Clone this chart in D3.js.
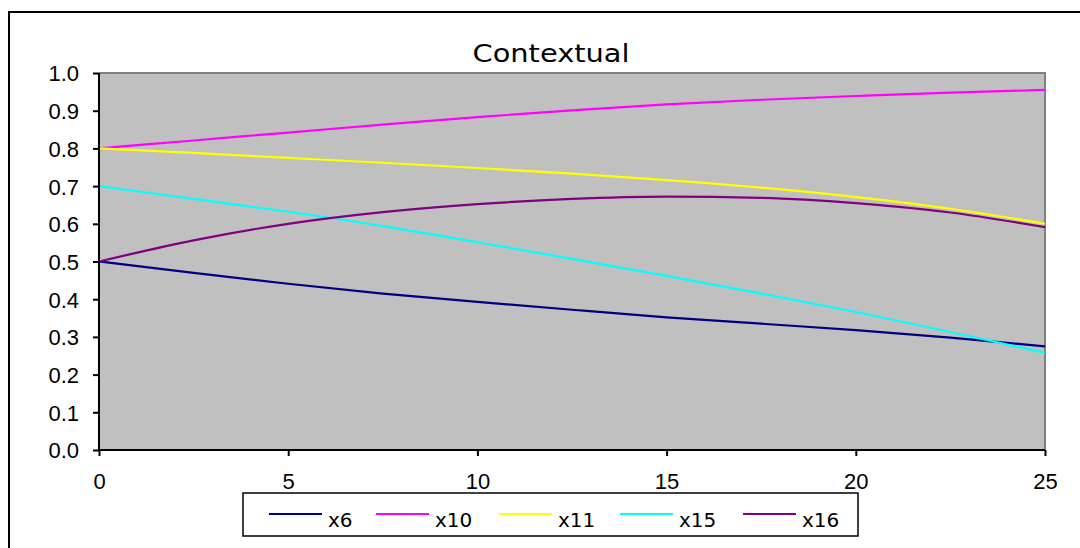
<!DOCTYPE html>
<html>
<head>
<meta charset="utf-8">
<script src="https://cdn.jsdelivr.net/npm/d3@7"></script>
<style>
  html, body { margin: 0; padding: 0; background: #ffffff; }
  svg { display: block; }
</style>
</head>
<body>
<svg id="chart" width="1080" height="548"></svg>
<script>
// Horizon values (x) shared by every series
const xs = [0, 2.5, 5, 7.5, 10, 12.5, 15, 17.5, 20, 22.5, 25];

// Series values
const x6  = [0.500, 0.470, 0.441, 0.415, 0.393, 0.372, 0.352, 0.335, 0.318, 0.298, 0.275];
const x10 = [0.800, 0.821, 0.842, 0.863, 0.883, 0.901, 0.917, 0.929, 0.939, 0.948, 0.955];
const x11 = [0.800, 0.788, 0.775, 0.762, 0.748, 0.733, 0.716, 0.696, 0.671, 0.640, 0.600];
const x15 = [0.700, 0.666, 0.632, 0.594, 0.551, 0.507, 0.462, 0.415, 0.366, 0.313, 0.258];
const x16 = [0.500, 0.556, 0.600, 0.631, 0.652, 0.666, 0.672, 0.669, 0.655, 0.630, 0.591];

const seriesNames  = ["x6", "x10", "x11", "x15", "x16"];
const seriesValues = [x6, x10, x11, x15, x16];
const seriesColors = ["#000080", "#FF00FF", "#FFFF00", "#00FFFF", "#800080"];

// Tick labels
const xTicks = [0, 5, 10, 15, 20, 25];
const yTicks = [0, 0.1, 0.2, 0.3, 0.4, 0.5, 0.6, 0.7, 0.8, 0.9, 1.0];

const title = "Contextual";

const svg = d3.select("#chart");
const plot = { left: 99, top: 73, right: 1045, bottom: 450 };

const x = d3.scaleLinear().domain([0, 25]).range([plot.left, plot.right]);
const y = d3.scaleLinear().domain([0, 1]).range([plot.bottom, plot.top]);

// Outer chart frame (runs off the right and bottom edges)
svg.append("rect")
  .attr("x", 9).attr("y", 12)
  .attr("width", 1100).attr("height", 600)
  .attr("fill", "#ffffff")
  .attr("stroke", "#000000").attr("stroke-width", 2);

// Plot area background
svg.append("rect")
  .attr("x", plot.left).attr("y", plot.top)
  .attr("width", plot.right - plot.left).attr("height", plot.bottom - plot.top)
  .attr("fill", "#C0C0C0");

// Gray frame on the top and right sides of the plot area
svg.append("path")
  .attr("d", `M${plot.left},${plot.top}H${plot.right}V${plot.bottom}`)
  .attr("fill", "none")
  .attr("stroke", "#808080").attr("stroke-width", 2);

// Title
svg.append("text")
  .attr("x", 551).attr("y", 62)
  .attr("text-anchor", "middle")
  .attr("font-family", "'DejaVu Sans', sans-serif")
  .attr("font-size", 24)
  .attr("textLength", 157)
  .attr("lengthAdjust", "spacingAndGlyphs")
  .attr("fill", "#000")
  .text(title);

// Series lines
const line = d3.line()
  .x((d, i) => x(xs[i]))
  .y(d => y(d))
  .curve(d3.curveMonotoneX);

svg.append("g")
  .selectAll("path")
  .data(seriesValues)
  .join("path")
  .attr("d", d => line(d))
  .attr("fill", "none")
  .attr("stroke", (d, i) => seriesColors[i])
  .attr("stroke-width", 2.2);

// Axes
const xAxis = d3.axisBottom(x)
  .tickValues(xTicks)
  .tickFormat(d3.format("d"))
  .tickSize(6)
  .tickPadding(17);

const yAxis = d3.axisLeft(y)
  .tickValues(yTicks)
  .tickFormat(d3.format(".1f"))
  .tickSize(6)
  .tickPadding(14);

const gx = svg.append("g")
  .attr("transform", `translate(0,${plot.bottom})`)
  .call(xAxis);

const gy = svg.append("g")
  .attr("transform", `translate(${plot.left},0)`)
  .call(yAxis);

[gx, gy].forEach(g => {
  g.select(".domain").attr("stroke", "#000").attr("stroke-width", 2);
  g.selectAll(".tick line").attr("stroke", "#000").attr("stroke-width", 2);
  g.selectAll(".tick text")
    .attr("font-family", "'Liberation Sans', Arial, sans-serif")
    .attr("font-size", 22)
    .attr("fill", "#000");
});
gx.select(".domain").attr("d", `M${plot.left},0H${plot.right}`);
gy.select(".domain").attr("d", `M0,${plot.bottom}V${plot.top}`);
gy.selectAll(".tick text").attr("dy", "0.36em");

// Legend
const legend = svg.append("g");
legend.append("rect")
  .attr("x", 243).attr("y", 493)
  .attr("width", 615).attr("height", 43)
  .attr("fill", "#ffffff")
  .attr("stroke", "#000").attr("stroke-width", 1.5);

const legendStarts = [269, 376, 499, 620, 743];
const items = legend.selectAll("g.item")
  .data(seriesNames)
  .join("g")
  .attr("class", "item")
  .attr("transform", (d, i) => `translate(${legendStarts[i]},514)`);

items.append("line")
  .attr("x1", 0).attr("x2", 53)
  .attr("y1", 0).attr("y2", 0)
  .attr("stroke", (d, i) => seriesColors[i])
  .attr("stroke-width", 2);

items.append("text")
  .attr("x", 59).attr("y", 6)
  .attr("dy", "0.36em")
  .attr("font-family", "'DejaVu Sans', sans-serif")
  .attr("font-size", 20)
  .attr("fill", "#000")
  .text(d => d);
</script>
</body>
</html>
